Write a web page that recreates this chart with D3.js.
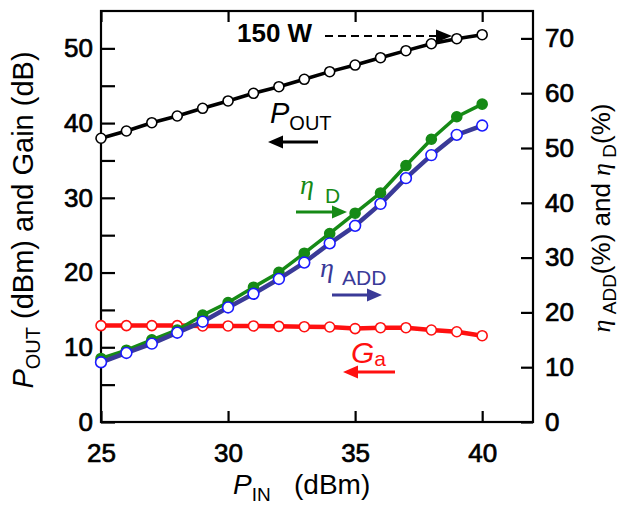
<!DOCTYPE html>
<html><head><meta charset="utf-8">
<script src="https://cdn.jsdelivr.net/npm/d3@7/dist/d3.min.js"></script>
<style>
body{margin:0;background:#fff}
svg{display:block}
text{font-family:"Liberation Sans",Arial,sans-serif;fill:#000}
</style>
</head><body>
<svg id="c" width="621" height="506"></svg>
<script>
// ---- data ----
const pin    = [25,26,27,28,29,30,31,32,33,34,35,36,37,38,39,40];
const pout   = [37.97,38.94,40.05,40.95,41.98,42.96,43.99,44.87,45.86,46.88,47.77,48.75,49.69,50.62,51.29,51.83];
const gain   = [12.9,12.9,12.9,12.9,12.85,12.85,12.85,12.8,12.75,12.71,12.5,12.62,12.62,12.31,12.08,11.55];
const etaD   = [11.6,13.1,15.0,16.8,19.5,21.8,24.6,27.3,30.8,34.4,38.1,41.8,46.8,51.6,55.7,58.0];
const etaADD = [10.9,12.6,14.3,16.3,18.3,20.9,23.4,26.1,29.1,32.6,35.8,39.8,44.5,48.7,52.4,54.1];
const xTicks = [25,30,35,40];
const yLeftTicks = [0,10,20,30,40,50];
const yLeftMinor = [5,15,25,35,45];
const yRightTicks = [0,10,20,30,40,50,60,70];

// ---- layout ----
const L = 101, R = 533, T = 11, B = 422;
const svg = d3.select("#c");
const x  = d3.scaleLinear().domain([25,42]).range([L,R]);
const yL = d3.scaleLinear().domain([0,55]).range([B,T]);
const yR = d3.scaleLinear().domain([0,75]).range([B,T]);

const tickFont = 26;
function styleAxis(g){
  g.select(".domain").remove();
  g.selectAll(".tick line").attr("stroke","#000").attr("stroke-width",2.2);
  g.selectAll(".tick text").attr("font-size",tickFont).attr("fill","#000")
   .attr("stroke","#000").attr("stroke-width",0.7)
   .style("font-family","'Liberation Sans',Arial,sans-serif");
}
// left axis
svg.append("g").attr("transform",`translate(${L},0)`)
  .call(d3.axisLeft(yL).tickValues(yLeftTicks).tickSizeInner(-14).tickSizeOuter(0).tickPadding(8).tickFormat(d3.format("d")))
  .call(styleAxis);
svg.append("g").attr("transform",`translate(${L},0)`)
  .call(d3.axisLeft(yL).tickValues(yLeftMinor).tickSizeInner(-14).tickSizeOuter(0).tickFormat(""))
  .call(styleAxis);
// right axis
svg.append("g").attr("transform",`translate(${R},0)`)
  .call(d3.axisRight(yR).tickValues(yRightTicks).tickSizeInner(-12).tickSizeOuter(0).tickPadding(12).tickFormat(d3.format("d")))
  .call(styleAxis);
// bottom axis
svg.append("g").attr("transform",`translate(0,${B})`)
  .call(d3.axisBottom(x).tickValues(xTicks).tickSizeInner(-11).tickSizeOuter(0).tickPadding(22).tickFormat(d3.format("d")))
  .call(styleAxis);
// top axis ticks
svg.append("g").attr("transform",`translate(0,${T})`)
  .call(d3.axisTop(x).tickValues(xTicks).tickSizeInner(-11).tickSizeOuter(0).tickFormat(""))
  .call(styleAxis);

// frame
svg.append("rect").attr("x",L).attr("y",T).attr("width",R-L).attr("height",B-T)
  .attr("fill","none").attr("stroke","#000").attr("stroke-width",2.2);

// ---- series ----
function series(vals, yScale, lineColor, lw, mStroke, mFill, r){
  const data = pin.map((p,i)=>[p,vals[i]]);
  svg.append("path").datum(data)
    .attr("d", d3.line().x(d=>x(d[0])).y(d=>yScale(d[1])))
    .attr("fill","none").attr("stroke",lineColor).attr("stroke-width",lw).attr("stroke-linejoin","round");
  svg.append("g").selectAll("circle").data(data).join("circle")
    .attr("cx",d=>x(d[0])).attr("cy",d=>yScale(d[1])).attr("r",r)
    .attr("fill",mFill).attr("stroke",mStroke).attr("stroke-width",1.6);
}
series(gain,  yL, "#ff1010", 4.5, "#ff1010", "#fff", 5);
series(etaD,  yR, "#168a16", 3.5, "#168a16", "#168a16", 5);
series(etaADD,yR, "#3a3a98", 4.5, "#1a1aff", "#fff", 5.4);
series(pout,  yL, "#000",    3.5, "#000",    "#fff", 5);

// ---- annotations ----
function arrow(x1,x2,y,color,lw,dash,head){
  const dir = Math.sign(x2-x1);
  const hl = head||15, hw = 6.5;
  svg.append("line").attr("x1",x1).attr("x2",x2-dir*hl*0.8).attr("y1",y).attr("y2",y)
    .attr("stroke",color).attr("stroke-width",lw).attr("stroke-dasharray",dash||null);
  svg.append("path").attr("d",`M${x2},${y} L${x2-dir*hl},${y-hw} L${x2-dir*hl},${y+hw} Z`).attr("fill",color);
}
svg.append("text").attr("x",237).attr("y",42).attr("font-size",26).attr("font-weight","bold").text("150 W");
arrow(325,452,36,"#000",2,"8,5",16);

// P_OUT label
let t = svg.append("text").attr("x",270).attr("y",123).attr("font-size",29);
t.append("tspan").attr("font-style","italic").text("P");
t.append("tspan").attr("font-size",20).attr("dy",7).text("OUT");
arrow(318,268,142,"#000",3,null,15);

const serif = "'Liberation Serif','DejaVu Serif',serif";
// eta D
t = svg.append("text").attr("x",300).attr("y",194).attr("font-size",28);
t.append("tspan").style("font-family",serif).attr("font-style","italic").style("fill","#168a16").text("η");
t.append("tspan").attr("x",325).attr("dy",9).attr("font-size",21).style("fill","#168a16").text("D");
arrow(296,347,212,"#168a16",3,null,15);

// eta ADD
t = svg.append("text").attr("x",320).attr("y",277).attr("font-size",28);
t.append("tspan").style("font-family",serif).attr("font-style","italic").style("fill","#3a3a98").text("η");
t.append("tspan").attr("x",342).attr("dy",8).attr("font-size",21).style("fill","#3a3a98").text("ADD");
arrow(332,382,295,"#3a3a98",3,null,15);

// G_a
t = svg.append("text").attr("x",351).attr("y",363).attr("font-size",30);
t.append("tspan").attr("font-style","italic").style("fill","#ff1010").text("G");
t.append("tspan").attr("font-size",21).attr("dy",3).style("fill","#ff1010").text("a");
arrow(395,343,372,"#ff1010",3,null,15);

// ---- axis titles ----
// x title
t = svg.append("text").attr("x",233).attr("y",494).attr("font-size",28);
t.append("tspan").attr("font-style","italic").text("P");
t.append("tspan").attr("font-size",19).attr("dy",7).text("IN");
t.append("tspan").attr("dy",-7).text("\u00a0\u00a0\u00a0(dBm)");

// left title
t = svg.append("text").attr("transform","translate(33,220) rotate(-90)").attr("text-anchor","middle").attr("font-size",29);
t.append("tspan").attr("font-style","italic").text("P");
t.append("tspan").attr("font-size",20).attr("dy",7).text("OUT");
t.append("tspan").attr("dy",-7).text(" (dBm) and Gain (dB)");

// right title
t = svg.append("text").attr("transform","translate(610,218) rotate(-90)").attr("text-anchor","middle").attr("font-size",26);
t.append("tspan").style("font-family",serif).attr("font-style","italic").text("η");
t.append("tspan").attr("font-size",19).attr("dy",6).text("\u00a0ADD");
t.append("tspan").attr("dy",-6).text("(%) and ");
t.append("tspan").style("font-family",serif).attr("font-style","italic").text("η");
t.append("tspan").attr("font-size",19).attr("dy",6).text("\u00a0D");
t.append("tspan").attr("dy",-6).text("(%)");
</script>
</body></html>
